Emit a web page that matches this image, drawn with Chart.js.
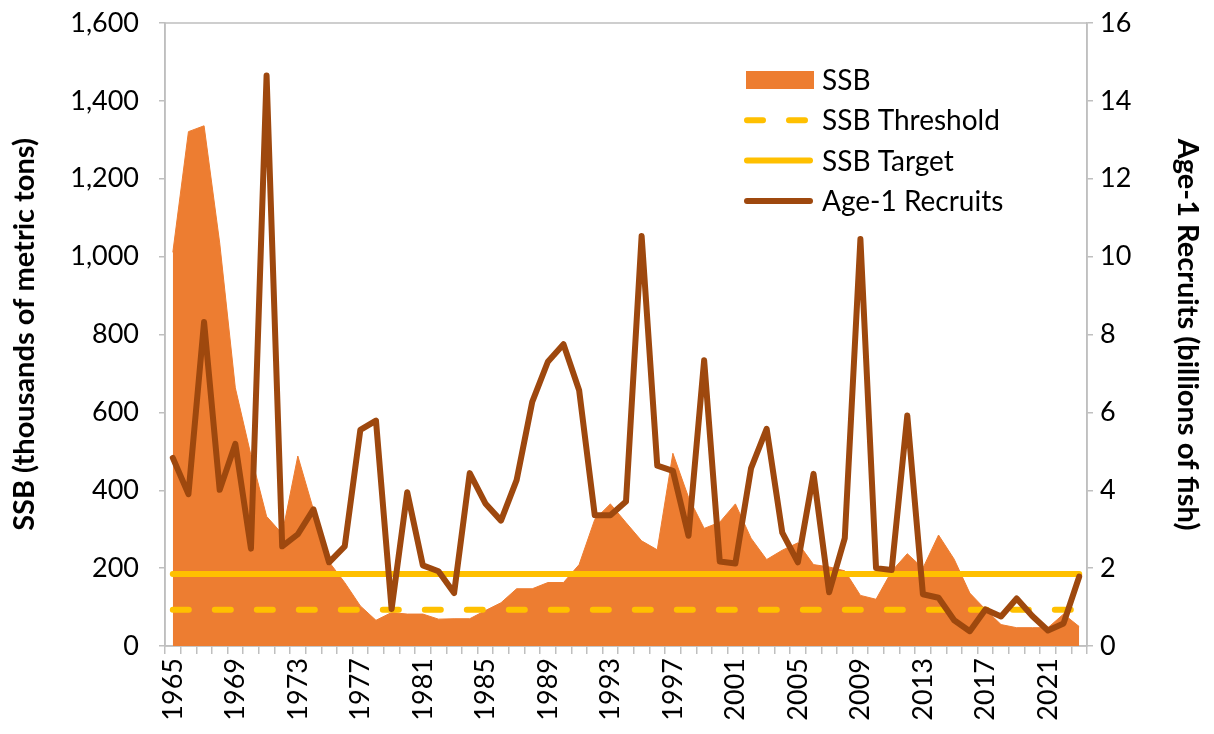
<!DOCTYPE html>
<html>
<head>
<meta charset="utf-8">
<title>SSB and Age-1 Recruits</title>
<script src="https://cdn.jsdelivr.net/npm/chart.js@4.4.1/dist/chart.umd.min.js"></script>
<style>
  html, body { margin: 0; padding: 0; background: #fff; }
  #wrap { width: 1214px; height: 734px; }
</style>
</head>
<body>
<div id="wrap"><canvas id="chart" width="1214" height="734"></canvas></div>
<script>
// years 1965 - 2023
const years = [];
for (let y = 1965; y <= 2023; y++) years.push(String(y));

// SSB, thousands of metric tons
const ssb = [
  1011, 1321, 1336, 1035, 663, 490, 333, 288, 488, 350,
  216, 163, 103, 66, 86, 82, 82, 69, 70, 70,
  91, 111, 147, 147, 163, 163, 209, 325, 365, 317,
  270, 247, 495, 382, 302, 318, 365, 277, 222, 246,
  265, 209, 203, 193, 130, 120, 192, 237, 200, 285,
  223, 136, 94, 55, 47, 47, 47, 82, 50
];

// Age-1 recruits, billions of fish
const recruits = [
  4.83, 3.90, 8.32, 4.01, 5.19, 2.50, 14.65, 2.56, 2.87, 3.51,
  2.15, 2.56, 5.55, 5.79, 0.95, 3.95, 2.07, 1.92, 1.36, 4.44,
  3.66, 3.22, 4.26, 6.27, 7.30, 7.75, 6.57, 3.36, 3.36, 3.71,
  10.53, 4.63, 4.50, 2.83, 7.34, 2.17, 2.12, 4.56, 5.58, 2.91,
  2.15, 4.42, 1.38, 2.77, 10.45, 2.00, 1.95, 5.92, 1.33, 1.24,
  0.66, 0.38, 0.94, 0.76, 1.22, 0.77, 0.40, 0.58, 1.78
];

const ssbThreshold = 93;
const ssbTarget = 185;

const leftTicks = { min: 0, max: 1600, step: 200 };
const rightTicks = { min: 0, max: 16, step: 2 };

const axisGray = '#bfbfbf';
const fontFamily = 'Lato, "Liberation Sans", sans-serif';
const fontSize = 27;
const titleSize = 29;

// plot area border (top edge mostly)
const plotBorder = {
  id: 'plotBorder',
  beforeDatasetsDraw(chart) {
    const { ctx, chartArea: a } = chart;
    ctx.save();
    ctx.strokeStyle = axisGray;
    ctx.lineWidth = 1.5;
    ctx.strokeRect(a.left, a.top, a.right - a.left, a.bottom - a.top);
    ctx.restore();
  }
};

// legend drawn inside the plot, like the Excel one
const insideLegend = {
  id: 'insideLegend',
  afterDraw(chart) {
    const { ctx, chartArea: a } = chart;
    const x0 = a.left + 581;
    const y0 = a.top + 57;
    const rowH = 40.3;
    const order = ['SSB', 'SSB Threshold', 'SSB Target', 'Age-1 Recruits'];
    ctx.save();
    order.forEach((name, row) => {
      const ds = chart.data.datasets.find(d => d.label === name);
      const cy = y0 + row * rowH;
      if (ds.fill) {
        ctx.fillStyle = ds.backgroundColor;
        ctx.fillRect(x0, cy - 9, 68, 18);
      } else {
        ctx.strokeStyle = ds.borderColor;
        ctx.lineWidth = ds.borderWidth;
        ctx.lineCap = 'round';
        ctx.setLineDash(ds.borderDash || []);
        ctx.beginPath();
        ctx.moveTo(x0 + 1, cy);
        ctx.lineTo(x0 + 64, cy);
        ctx.stroke();
        ctx.setLineDash([]);
      }
      ctx.fillStyle = '#000';
      ctx.font = '28px ' + fontFamily;
      ctx.textBaseline = 'middle';
      ctx.textAlign = 'left';
      ctx.fillText(name, x0 + 76, cy + 1);
    });
    ctx.restore();
  }
};

const ctx = document.getElementById('chart').getContext('2d');

new Chart(ctx, {
  type: 'line',
  data: {
    labels: years,
    datasets: [
      {
        label: 'Age-1 Recruits',
        data: recruits,
        yAxisID: 'y1',
        borderColor: '#9E480E',
        borderWidth: 6,
        borderJoinStyle: 'round',
        borderCapStyle: 'round',
        pointRadius: 0,
        tension: 0,
        order: 1
      },
      {
        label: 'SSB Target',
        data: years.map(() => ssbTarget),
        yAxisID: 'y',
        borderColor: '#FFC000',
        borderWidth: 6,
        borderCapStyle: 'round',
        pointRadius: 0,
        order: 2
      },
      {
        label: 'SSB Threshold',
        data: years.map(() => ssbThreshold),
        yAxisID: 'y',
        borderColor: '#FFC000',
        borderWidth: 6,
        borderCapStyle: 'round',
        borderDash: [16, 26],
        pointRadius: 0,
        order: 3
      },
      {
        label: 'SSB',
        data: ssb,
        yAxisID: 'y',
        fill: 'origin',
        backgroundColor: '#ED7D31',
        borderColor: '#ED7D31',
        borderWidth: 1,
        pointRadius: 0,
        tension: 0,
        order: 4
      }
    ]
  },
  options: {
    responsive: false,
    animation: false,
    events: [],
    layout: { padding: { top: 23, left: 0, right: 0, bottom: 0 } },
    plugins: {
      legend: { display: false },
      tooltip: { enabled: false }
    },
    scales: {
      x: {
        offset: true,
        grid: { offset: true, drawOnChartArea: false, drawTicks: true, tickLength: 8, color: axisGray, lineWidth: 1.5 },
        border: { display: true, color: axisGray, width: 1.5 },
        ticks: {
          autoSkip: false,
          maxRotation: 90,
          minRotation: 90,
          padding: 4,
          color: '#000',
          font: { family: fontFamily, size: fontSize },
          callback: (v, i) => (Number(years[i]) - 1965) % 4 === 0 ? years[i] : ''
        },
        afterFit: s => { s.height = 88; s.paddingLeft = 0; s.paddingRight = 0; }
      },
      y: {
        position: 'left',
        min: leftTicks.min,
        max: leftTicks.max,
        ticks: { stepSize: leftTicks.step, padding: 20, color: '#000', font: { family: fontFamily, size: fontSize } },
        grid: { drawOnChartArea: false, drawTicks: true, tickLength: 6, color: axisGray, lineWidth: 1.5 },
        border: { display: true, color: axisGray, width: 1.5 },
        title: {
          display: true,
          text: 'SSB (thousands of metric tons)',
          color: '#000',
          font: { family: fontFamily, size: titleSize, weight: 'bold' },
          padding: { top: 7, bottom: 0 }
        },
        afterFit: s => { s.width = 165; s.paddingTop = 0; s.paddingBottom = 0; }
      },
      y1: {
        position: 'right',
        min: rightTicks.min,
        max: rightTicks.max,
        ticks: { stepSize: rightTicks.step, padding: 7, color: '#000', font: { family: fontFamily, size: fontSize } },
        grid: { drawOnChartArea: false, drawTicks: true, tickLength: 6, color: axisGray, lineWidth: 1.5 },
        border: { display: true, color: axisGray, width: 1.5 },
        title: {
          display: true,
          text: 'Age-1 Recruits (billions of fish)',
          color: '#000',
          font: { family: fontFamily, size: titleSize, weight: 'bold' },
          padding: { top: 9, bottom: 0 }
        },
        afterFit: s => { s.width = 127; s.paddingTop = 0; s.paddingBottom = 0; }
      }
    }
  },
  plugins: [plotBorder, insideLegend]
});
</script>
</body>
</html>
